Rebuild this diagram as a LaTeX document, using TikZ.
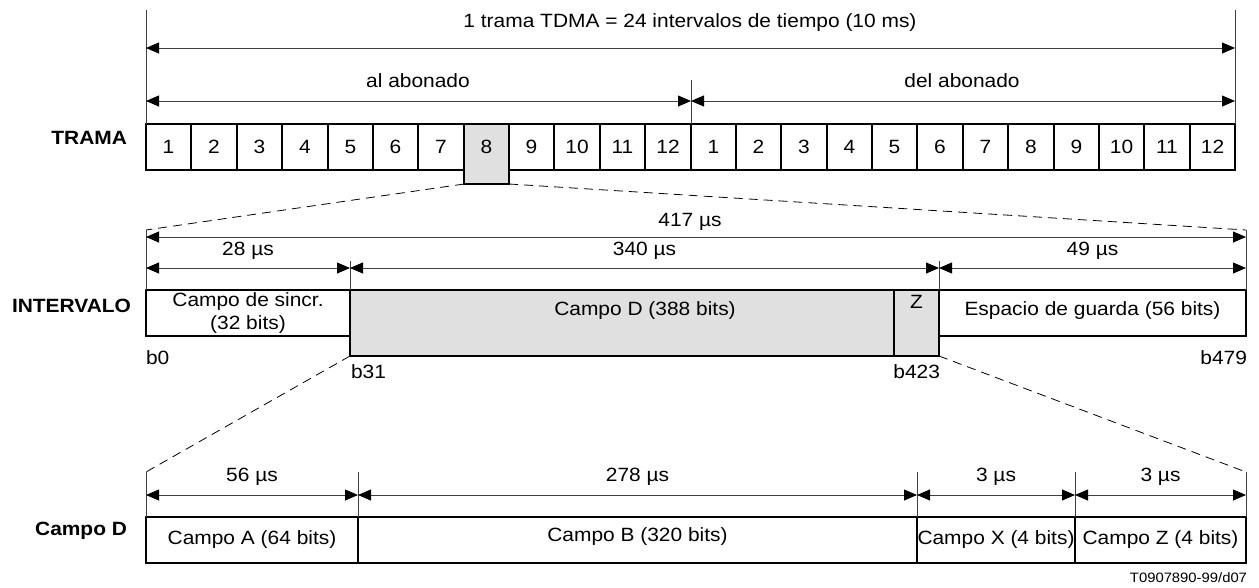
\documentclass[tikz,border=0pt]{standalone}
\usepackage{fontspec}
\setmainfont{Liberation Sans}[FakeStretch=1.09]
\usetikzlibrary{arrows.meta}
\begin{document}
\begin{tikzpicture}[x=1pt,y=-1pt,
  every node/.style={inner sep=0pt, outer sep=0pt},
  txt/.style={font=\fontsize{19.2}{22.5}\selectfont},
  lbl/.style={font=\bfseries\fontsize{19.2}{22.5}\selectfont, anchor=east},
  cellbox/.style={draw=black, line width=1.3pt, minimum height=46pt, anchor=north west, font=\fontsize{19.2}{22.5}\selectfont},
  graybox/.style={draw=black, line width=1.3pt, fill=black!12, anchor=north west},
  dimline/.style={line width=0.8pt, draw=black!75},
  dimarrow/.style={dimline, {Triangle[length=13pt,width=11pt,color=black]}-{Triangle[length=13pt,width=11pt,color=black]}},
  dashline/.style={line width=0.8pt, dash pattern=on 9pt off 6pt},
]
\useasboundingbox (0,0) rectangle (1259,587);

% ---------- TRAMA ----------
\foreach \i in {1,...,24} {
  \pgfmathsetmacro{\xa}{round(146+(\i-1)*45.375)}
  \pgfmathsetmacro{\xb}{round(146+\i*45.375)}
  \pgfmathsetmacro{\w}{\xb-\xa}
  \pgfmathtruncatemacro{\n}{mod(\i-1,12)+1}
  \node[cellbox, minimum width=\w pt] (c\i) at (\xa,124) {\n};
}
\node[graybox, minimum width=45pt, minimum height=60pt] (g8) at (464,124) {};
\node[txt] (t8) at (g8.north |- c1.center) {8};
\node[lbl] (ltrama) at (127,138) {TRAMA};

\coordinate (tl) at (146,10);
\coordinate (tr) at (1235,10);
\draw[dimline] (tl) -- (c1.north west);
\draw[dimline] (tr) -- (c24.north east);
\coordinate (a1l) at (146,48);
\coordinate (a1r) at (1235,48);
\draw[dimarrow] (a1l) -- (a1r);
\node[txt] (ttitle) at (690,23) {1 trama TDMA = 24 intervalos de tiempo (10 ms)};

\coordinate (mtop) at (691,80);
\draw[dimline] (mtop) -- (c12.north east);
\coordinate (a2l) at (146,101);
\coordinate (a2m) at (691,101);
\coordinate (a2r) at (1235,101);
\draw[dimarrow] (a2l) -- (a2m);
\draw[dimarrow] (a2m) -- (a2r);
\node[txt] (tal) at (418,81) {al abonado};
\node[txt] (tdel) at (962,81) {del abonado};

% ---------- INTERVALO ----------
\node[cellbox, minimum width=204pt, align=center] (sinc) at (146,290) {Campo de sincr.\\(32 bits)};
\node[graybox, minimum width=589pt, minimum height=66pt] (cd) at (350,290) {};
\node[graybox, minimum width=45pt, minimum height=66pt] (zz) at (894,290) {};
\node[cellbox, minimum width=307pt] (esp) at (939,290) {};
\node[txt] (tcd) at (645,311) {Campo D (388 bits)};
\node[txt] (tz) at (916.5,302) {Z};
\node[txt] (tesp) at (1092.5,311) {Espacio de guarda (56 bits)};
\node[lbl] (linter) at (131,306) {INTERVALO};

\node[txt, anchor=west] (b0) at (146,358) {b0};
\node[txt, anchor=west] (b31) at (351,372) {b31};
\node[txt, anchor=east] (b423) at (940,372) {b423};
\node[txt, anchor=east] (b479) at (1247,358) {b479};

\coordinate (d1l) at (146,230);
\coordinate (d1r) at (1246,230);
\draw[dashline] (g8.south west) -- (d1l);
\draw[dashline] (g8.south east) -- (d1r);
\draw[dimline] (d1l) -- (sinc.north west);
\draw[dimline] (d1r) -- (esp.north east);
\coordinate (k1) at (350,261);
\coordinate (k2) at (939,261);
\draw[dimline] (k1) -- (cd.north west);
\draw[dimline] (k2) -- (esp.north west);

\coordinate (i1l) at (146,237);
\coordinate (i1r) at (1246,237);
\draw[dimarrow] (i1l) -- (i1r);
\node[txt] (t417) at (690,222) {417 µs};
\coordinate (i2a) at (146,268);
\coordinate (i2b) at (350,268);
\coordinate (i2c) at (939,268);
\coordinate (i2d) at (1246,268);
\draw[dimarrow] (i2a) -- (i2b);
\draw[dimarrow] (i2b) -- (i2c);
\draw[dimarrow] (i2c) -- (i2d);
\node[txt] (t28) at (248,251) {28 µs};
\node[txt] (t340) at (644.5,251) {340 µs};
\node[txt] (t49) at (1092.5,251) {49 µs};

% ---------- Campo D ----------
\node[cellbox, minimum width=212pt] (fa) at (146,517) {Campo A (64 bits)};
\node[cellbox, minimum width=559pt] (fb) at (358,517) {};
\node[txt] (tfb) at (637.5,537) {Campo B (320 bits)};
\node[cellbox, minimum width=158pt] (fx) at (917,517) {Campo X (4 bits)};
\node[cellbox, minimum width=171pt] (fz) at (1075,517) {Campo Z (4 bits)};
\node[lbl] (lcd) at (127,531) {Campo D};

\coordinate (e1l) at (146,472);
\coordinate (e1r) at (1246,472);
\draw[dashline] (cd.south west) -- (e1l);
\draw[dashline] (zz.south east) -- (e1r);
\draw[dimline] (e1l) -- (fa.north west);
\draw[dimline] (e1r) -- (fz.north east);
\coordinate (m1) at (358,472);
\coordinate (m2) at (917,472);
\coordinate (m3) at (1075,472);
\draw[dimline] (m1) -- (fb.north west);
\draw[dimline] (m2) -- (fx.north west);
\draw[dimline] (m3) -- (fz.north west);

\coordinate (j1) at (146,495);
\coordinate (j2) at (358,495);
\coordinate (j3) at (917,495);
\coordinate (j4) at (1075,495);
\coordinate (j5) at (1246,495);
\draw[dimarrow] (j1) -- (j2);
\draw[dimarrow] (j2) -- (j3);
\draw[dimarrow] (j3) -- (j4);
\draw[dimarrow] (j4) -- (j5);
\node[txt] (t56) at (252,477) {56 µs};
\node[txt] (t278) at (637.5,477) {278 µs};
\node[txt] (t3a) at (996,477) {3 µs};
\node[txt] (t3b) at (1160.5,477) {3 µs};

\node[anchor=east, font=\fontsize{13.6}{16}\selectfont] (ref) at (1247,578) {T0907890-99/d07};
\end{tikzpicture}
\end{document}
